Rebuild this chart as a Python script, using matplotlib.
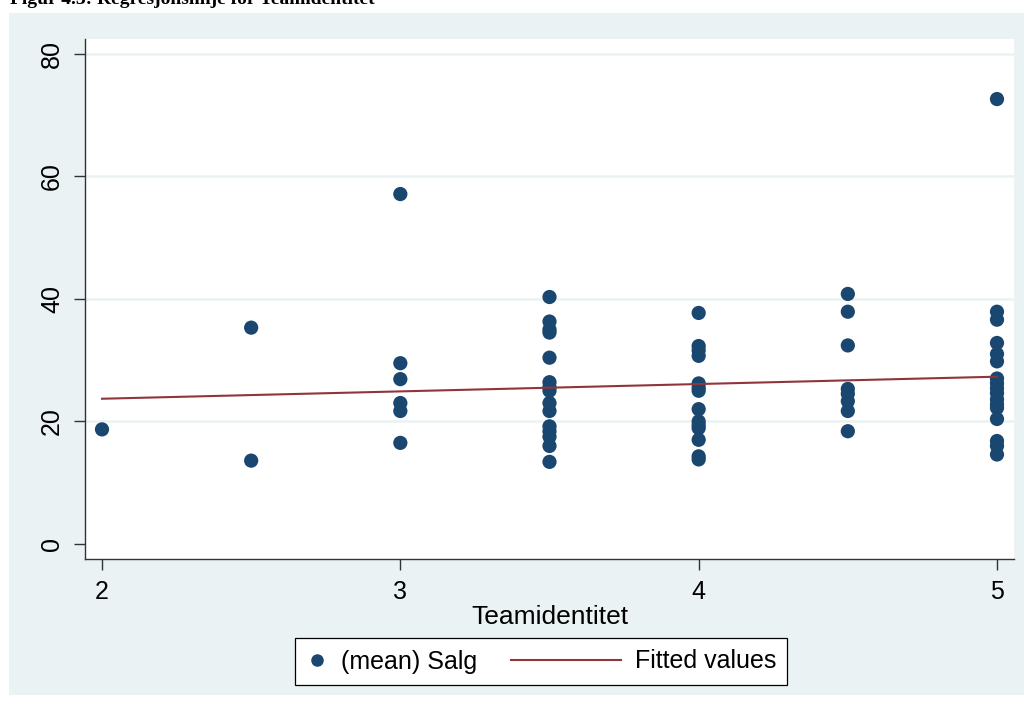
import numpy as np
import matplotlib.pyplot as plt
from matplotlib.lines import Line2D
from matplotlib.patches import Rectangle
from matplotlib.legend_handler import HandlerLine2D

plt.rcParams['font.family'] = ['Liberation Sans', 'DejaVu Sans']

# Data: Teamidentitet (x) vs (mean) Salg (y)
x_2 = [2.0]
y_2 = [18.7]
x_25 = [2.5, 2.5]
y_25 = [35.3, 13.6]
y_3 = [57.1, 29.5, 26.9, 23.0, 21.7, 16.5]
y_35 = [40.3, 36.3, 35.0, 34.5, 30.4, 26.4, 25.6, 25.0, 23.0, 21.7,
        19.2, 18.4, 17.5, 16.0, 13.4]
y_4 = [37.7, 32.3, 31.6, 30.7, 26.2, 25.5, 25.0, 22.0, 20.0, 19.4,
       18.9, 17.0, 14.3, 13.8]
y_45 = [40.8, 37.9, 32.4, 25.3, 24.5, 23.3, 21.7, 18.4]
y_5 = [72.6, 37.9, 36.6, 32.8, 31.0, 29.8, 27.0, 26.2, 25.4, 24.6,
       23.6, 22.8, 22.2, 20.4, 16.8, 16.0, 14.6]

groups = [(2.0, y_2), (2.5, y_25), (3.0, y_3), (3.5, y_35),
          (4.0, y_4), (4.5, y_45), (5.0, y_5)]
teamid = np.concatenate([[g] * len(v) for g, v in groups])
salg = np.concatenate([v for g, v in groups])

# fitted line (endpoints)
fit_x = [2, 5]
fit_y = [23.7, 27.3]

x_ticks = [2, 3, 4, 5]
y_ticks = [0, 20, 40, 60, 80]

navy = '#1a476f'
maroon = '#90353b'
bg = '#eaf2f3'
axcol = '#333333'

fig = plt.figure(figsize=(10.24, 7.08), dpi=100)
fig.patch.set_facecolor('white')

# light graph region behind the plot
fig.add_artist(Rectangle((9 / 1024, 13 / 708), 1 - 9 / 1024, 1 - 26 / 708,
                         transform=fig.transFigure, facecolor=bg,
                         edgecolor='none', zorder=0))

# caption cut off at the top of the image (only its lower edge shows)
fig.text(10 / 1024, 1 - 3.5 / 708, 'Figur 4.3: Regresjonslinje for Teamidentitet',
         family='Liberation Serif', fontweight='bold', fontsize=14,
         va='baseline', ha='left')

ax = fig.add_axes([85 / 1024, 149 / 708, 929 / 1024, 520 / 708])
ax.set_facecolor('white')

for yv in y_ticks[1:]:
    ax.axhline(yv, color=bg, linewidth=1.8, zorder=1)

ax.scatter(teamid, salg, s=105, color=navy, edgecolors='none', zorder=3,
           label='(mean) Salg')
ax.plot(fit_x, fit_y, color=maroon, linewidth=1.5, zorder=4,
        label='Fitted values')

ax.set_xlim(1.943, 5.057)
ax.set_ylim(-2.45, 82.4)
ax.set_xticks(x_ticks)
ax.set_yticks(y_ticks)
ax.set_xticklabels([str(v) for v in x_ticks])
ax.set_yticklabels([str(v) for v in y_ticks], rotation=90, va='center')

for s in ['top', 'right']:
    ax.spines[s].set_visible(False)
for s in ['left', 'bottom']:
    ax.spines[s].set_color(axcol)
    ax.spines[s].set_linewidth(1.0)
ax.tick_params(axis='both', direction='out', length=8, width=1.0,
               color=axcol, labelsize=18, pad=7)

ax.set_xlabel('Teamidentitet', fontsize=19, labelpad=1)


class LongLine(HandlerLine2D):
    # line handle that reaches back into the column spacing
    def create_artists(self, legend, orig_handle, xdescent, ydescent,
                       width, height, fontsize, trans):
        y = height / 2 - ydescent
        x1 = -xdescent + width
        line = Line2D([x1 - 4.4 * fontsize, x1], [y, y],
                      color=orig_handle.get_color(),
                      linewidth=orig_handle.get_linewidth())
        line.set_transform(trans)
        return [line]


h_dot = Line2D([], [], linestyle='none', marker='o', markersize=8,
               color=navy)
h_line = Line2D([], [], color=maroon, linewidth=1.5)
leg = fig.legend([h_dot, h_line], ['(mean) Salg', 'Fitted values'],
                 loc='center', bbox_to_anchor=(541 / 1024, 1 - 661.5 / 708),
                 ncol=2, fontsize=18, frameon=True, fancybox=False,
                 edgecolor='black', facecolor='white', framealpha=1,
                 handlelength=0.85, handletextpad=0.55, columnspacing=4.9,
                 borderpad=0.45, handler_map={h_line: LongLine()})
leg.get_frame().set_linewidth(0.9)

fig.savefig('out.png', dpi=100)
